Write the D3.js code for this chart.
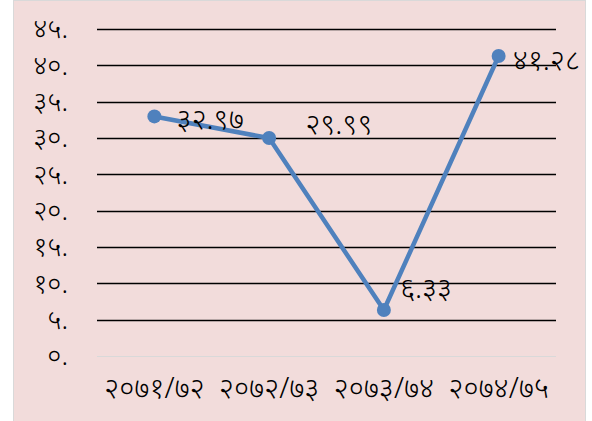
<!DOCTYPE html>
<html>
<head>
<meta charset="utf-8">
<script src="https://cdn.jsdelivr.net/npm/d3@7"></script>
<style>
  body { margin: 0; background: #fff; }
  svg { display: block; }
</style>
</head>
<body>
<div id="container"></div>
<script>
// fiscal years and values
var years = ["२०७१/७२", "२०७२/७३", "२०७३/७४", "२०७४/७५"];
var values = [32.97, 29.99, 6.33, 41.28];
var valueLabels = ["३२.९७", "२९.९९", "६.३३", "४१.२८"];
var yTicks = [0, 5, 10, 15, 20, 25, 30, 35, 40, 45];
var yTickLabels = ["०.", "५.", "१०.", "१५.", "२०.", "२५.", "३०.", "३५.", "४०.", "४५."];

// label nudges (dx, dy) like the original, hand placed
var labelNudge = [[22, 2], [36, -14], [16, -22], [14, 4]];

var width = 592, height = 421;
var margin = {left: 97, right: 36, top: 29, bottom: 65};

var svg = d3.select("#container").append("svg")
    .attr("width", width)
    .attr("height", height);

svg.append("rect")
    .attr("x", 13.5).attr("y", 0.5)
    .attr("width", 572).attr("height", 425)
    .attr("fill", "#f2dcdb")
    .attr("stroke", "#d9d9d9");

var x = d3.scaleBand()
    .domain(years)
    .range([margin.left, width - margin.right]);

var y = d3.scaleLinear()
    .domain([0, 45])
    .range([height - margin.bottom, margin.top]);

var font = "'Noto Sans', sans-serif";

// gridlines
svg.append("g").selectAll("line")
  .data(yTicks)
  .enter().append("line")
    .attr("x1", margin.left)
    .attr("x2", width - margin.right)
    .attr("y1", d => Math.round(y(d)) + 0.5)
    .attr("y2", d => Math.round(y(d)) + 0.5)
    .attr("stroke", d => d == 0 ? "#d9d9d9" : "#000")
    .attr("stroke-width", d => d == 0 ? 1 : 1.5);

// y labels
svg.append("g").selectAll("text")
  .data(yTicks)
  .enter().append("text")
    .attr("x", 68)
    .attr("y", d => y(d))
    .attr("dy", "0.35em")
    .attr("text-anchor", "end")
    .attr("font-family", font)
    .attr("font-weight", 300)
    .attr("font-size", 27)
    .text((d, i) => yTickLabels[i]);

// x labels
svg.append("g").selectAll("text")
  .data(years)
  .enter().append("text")
    .attr("x", d => x(d) + x.bandwidth() / 2)
    .attr("y", 398)
    .attr("text-anchor", "middle")
    .attr("font-family", font)
    .attr("font-weight", 300)
    .attr("font-size", 29)
    .text(d => d);

var line = d3.line()
    .x((d, i) => x(years[i]) + x.bandwidth() / 2)
    .y(d => y(d));

svg.append("path")
    .datum(values)
    .attr("d", line)
    .attr("fill", "none")
    .attr("stroke", "#4f81bd")
    .attr("stroke-width", 4.5)
    .attr("stroke-linejoin", "round");

svg.append("g").selectAll("circle")
  .data(values)
  .enter().append("circle")
    .attr("cx", (d, i) => x(years[i]) + x.bandwidth() / 2)
    .attr("cy", d => y(d))
    .attr("r", 7)
    .attr("fill", "#4f81bd");

svg.append("g").selectAll("text")
  .data(values)
  .enter().append("text")
    .attr("x", (d, i) => x(years[i]) + x.bandwidth() / 2 + labelNudge[i][0])
    .attr("y", (d, i) => y(d) + labelNudge[i][1])
    .attr("dy", "0.35em")
    .attr("font-family", font)
    .attr("font-weight", 300)
    .attr("font-size", 29)
    .text((d, i) => valueLabels[i]);
</script>
</body>
</html>
